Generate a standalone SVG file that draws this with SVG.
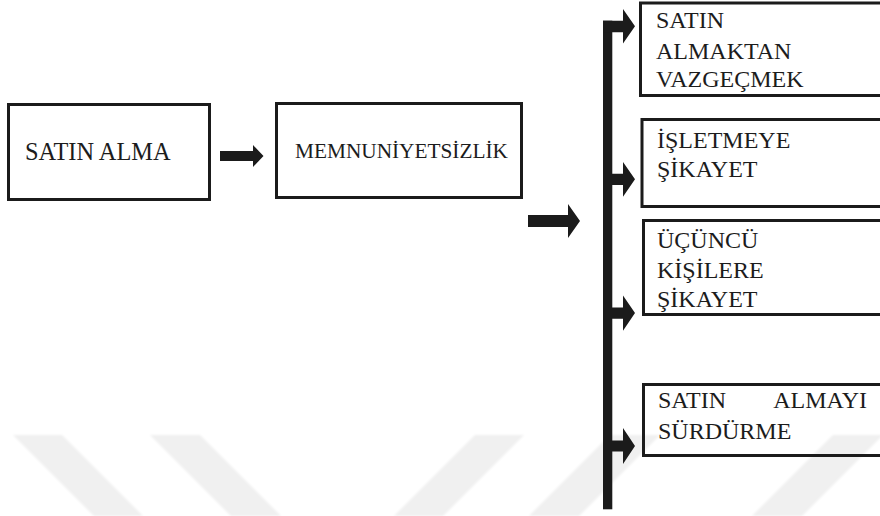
<svg xmlns="http://www.w3.org/2000/svg" width="880" height="516" viewBox="0 0 880 516">
  <style>
    .box { fill: none; stroke: #1b1b1b; stroke-width: 3; }
    .lbl { fill: #1c1c1c; }
    .arrow { fill: #1b1b1b; }
    .wm { fill: #f0f0f0; }
  </style>
  <defs>
    <filter id="soft" x="-5%" y="-5%" width="110%" height="110%">
      <feGaussianBlur stdDeviation="1"/>
    </filter>
  </defs>

  <rect width="880" height="516" fill="#ffffff"/>

  <!-- faint background stripes -->
  <g id="background-stripes" filter="url(#soft)">
    <polygon class="wm" points="13,435 62,435 143,516 94,516"/>
    <polygon class="wm" points="150,435 200,435 281,516 231,516"/>
    <polygon class="wm" points="475,435 524,435 443,516 394,516"/>
    <polygon class="wm" points="610,435 660,435 579,516 529,516"/>
    <polygon class="wm" points="833,435 883,435 802,516 752,516"/>
  </g>

  <g font-family="Liberation Serif, Times New Roman, DejaVu Serif, serif" font-size="24">
    <g id="node-satin-alma">
      <rect class="box" x="8.5" y="104.5" width="201" height="95"/>
      <text class="lbl" x="25" y="160" font-size="24.4">SATIN ALMA</text>
    </g>

    <g id="node-memnuniyetsizlik">
      <rect class="box" x="276.5" y="103.5" width="245" height="94"/>
      <text class="lbl" x="295" y="158.3" font-size="21.3">MEMNUNİYETSİZLİK</text>
    </g>

    <g id="node-vazgecmek">
      <rect class="box" x="640.5" y="3" width="260" height="92.5"/>
      <text class="lbl" x="656" y="28.3">SATIN</text>
      <text class="lbl" x="656" y="59.3">ALMAKTAN</text>
      <text class="lbl" x="656" y="87.3">VAZGEÇMEK</text>
    </g>

    <g id="node-isletmeye-sikayet">
      <rect class="box" x="642" y="119.5" width="260" height="87"/>
      <text class="lbl" x="657" y="148">İŞLETMEYE</text>
      <text class="lbl" x="657" y="176.5">ŞİKAYET</text>
    </g>

    <g id="node-ucuncu-kisilere">
      <rect class="box" x="643.5" y="220.5" width="260" height="94"/>
      <text class="lbl" x="657" y="248.3">ÜÇÜNCÜ</text>
      <text class="lbl" x="657" y="277.7">KİŞİLERE</text>
      <text class="lbl" x="657" y="306.7">ŞİKAYET</text>
    </g>

    <g id="node-surdurme">
      <rect class="box" x="643.5" y="384.5" width="260" height="71"/>
      <text class="lbl" y="408.3"><tspan x="658">SATIN</tspan><tspan x="867" text-anchor="end">ALMAYI</tspan></text>
      <text class="lbl" x="658" y="439.3">SÜRDÜRME</text>
    </g>
  </g>

  <g id="connectors">
    <!-- SATIN ALMA -> MEMNUNİYETSİZLİK -->
    <polygon class="arrow" points="220,151 253,151 253,145 263.5,156 253,167 253,161 220,161"/>
    <!-- MEMNUNİYETSİZLİK -> branch -->
    <polygon class="arrow" points="528,215 568,215 568,204 580,221 568,238 568,227 528,227"/>
    <!-- vertical branch bar -->
    <rect class="arrow" x="603" y="20.7" width="9.3" height="488.6"/>
    <!-- branch arrows -->
    <polygon class="arrow" points="603,20.7 623,20.7 623,9 635,26.3 623,43.5 623,32.2 603,32.2"/>
    <polygon class="arrow" points="612,173.8 623,173.8 623,162 635,179.3 623,196.7 623,185 612,185"/>
    <polygon class="arrow" points="612,307.5 623,307.5 623,295.5 635,313 623,330.7 623,318.7 612,318.7"/>
    <polygon class="arrow" points="612,440.5 623,440.5 623,428 635,446 623,464 623,451.5 612,451.5"/>
  </g>
</svg>
